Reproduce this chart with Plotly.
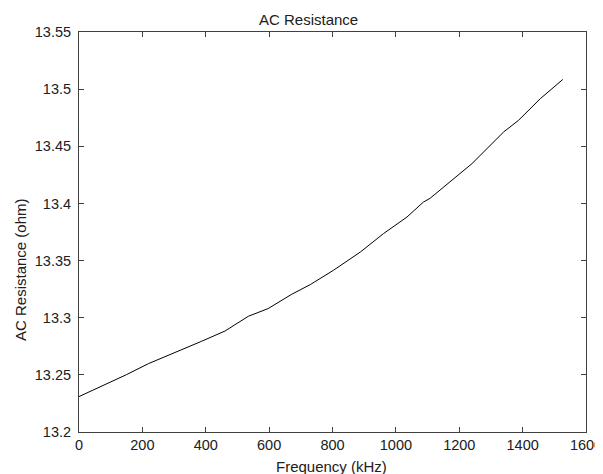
import plotly.graph_objects as go

freq_khz = [0, 150, 219, 313, 387, 461, 534, 597, 670, 730, 803, 888, 961,
            1035, 1087, 1108, 1161, 1182, 1240, 1340, 1387, 1456, 1508, 1527]
r_ac = [13.231, 13.2502, 13.2598, 13.2706, 13.2794, 13.2884, 13.3012, 13.308,
        13.3203, 13.329, 13.3415, 13.3575, 13.3736, 13.3881, 13.4012, 13.4045,
        13.4165, 13.4215, 13.4348, 13.4625, 13.4727, 13.4917, 13.5035, 13.5085]

x_ticks = [0, 200, 400, 600, 800, 1000, 1200, 1400, 1600]
y_ticks = [13.2, 13.25, 13.3, 13.35, 13.4, 13.45, 13.5, 13.55]
y_ticklabels = ["13.2", "13.25", "13.3", "13.35", "13.4", "13.45", "13.5", "13.55"]

axcol = "#404040"
tickfnt = dict(family="Liberation Sans, Arial, sans-serif", size=14.5, color="#202020")
lblfnt = dict(family="Liberation Sans, Arial, sans-serif", size=15, color="#202020")

# page body has an 8px margin, so the figure is drawn 8px smaller
W, H = 595, 466
L, R, T, B = 71, 17, 24, 42

fig = go.Figure()
fig.add_trace(go.Scatter(x=freq_khz, y=r_ac, mode="lines",
                         line=dict(color="black", width=1), showlegend=False))

axis_style = dict(showline=True, linecolor=axcol, linewidth=1, mirror="ticks",
                  ticks="inside", ticklen=5, tickcolor=axcol, showgrid=False,
                  zeroline=False, tickfont=tickfnt, automargin=False)
fig.update_xaxes(range=[0, 1600], tickvals=x_ticks, **axis_style)
fig.update_yaxes(range=[13.2, 13.55], tickvals=y_ticks, ticktext=y_ticklabels,
                 ticklabelstandoff=4, **axis_style)

pw, ph = W - L - R, H - T - B
def px(x, y):
    # figure pixel position -> paper fraction
    return (x - L) / pw, (H - y - B) / ph

tx, ty = px(300, 12)
xx, xy = px(323, 458)
yx, yy = px(12, 262)

lbl = dict(xref="paper", yref="paper", showarrow=False, font=lblfnt,
           xanchor="center", yanchor="middle")
fig.update_layout(
    width=W, height=H,
    margin=dict(l=L, r=R, t=T, b=B),
    plot_bgcolor="white", paper_bgcolor="white",
    font=tickfnt,
    annotations=[
        dict(text="AC Resistance", x=tx, y=ty, **lbl),
        dict(text="Frequency (kHz)", x=xx, y=xy, **lbl),
        dict(text="AC Resistance (ohm)", x=yx, y=yy, textangle=-90, **lbl),
    ],
)

fig.write_html("out.html")
